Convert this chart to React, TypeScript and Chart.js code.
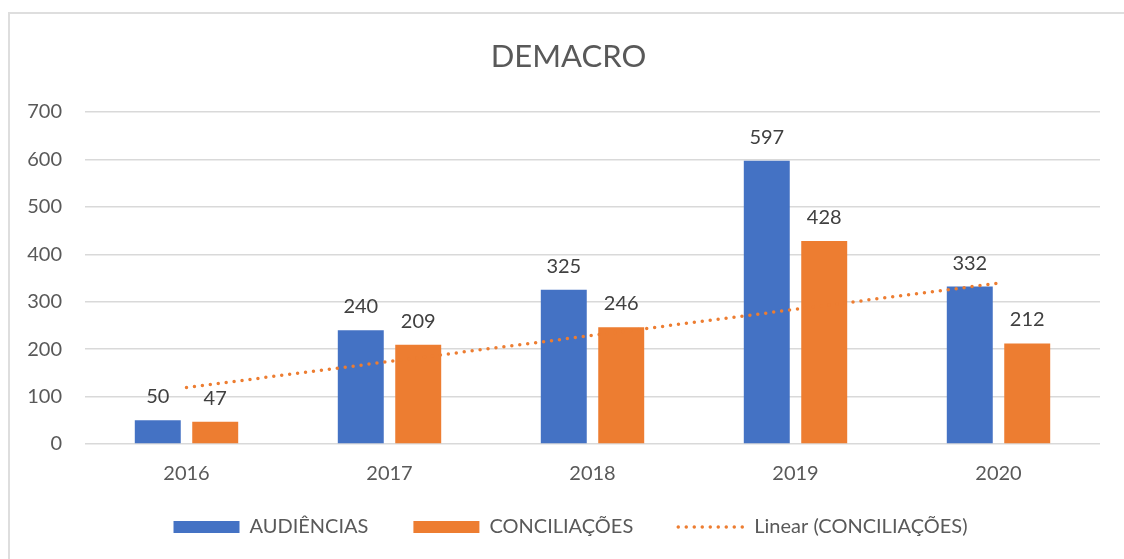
import { useEffect, useRef } from "react";
import { Chart, registerables } from "chart.js";

Chart.register(...registerables);

const chartTitle = "DEMACRO";
const categories = ["2016", "2017", "2018", "2019", "2020"];
const audiencias = [50, 240, 325, 597, 332];
const conciliacoes = [47, 209, 246, 428, 212];
// Linear trend of CONCILIAÇÕES, endpoints
const trendConciliacoes: (number | null)[] = [119, null, null, null, 339];
const seriesLabels = ["AUDIÊNCIAS", "CONCILIAÇÕES", "Linear (CONCILIAÇÕES)"];
const yMin = 0;
const yMax = 700;
const yStep = 100;

const BLUE = "#4472C4";
const ORANGE = "#ED7D31";
const TEXT = "#595959";
const FONT = "Lato, 'Open Sans', sans-serif";

const valueLabels = {
  id: "valueLabels",
  afterDatasetsDraw(chart: any) {
    const ctx = chart.ctx;
    ctx.save();
    ctx.font = `20px ${FONT}`;
    ctx.fillStyle = "#404040";
    ctx.textAlign = "center";
    ctx.textBaseline = "alphabetic";
    chart.data.datasets.forEach((ds: any, i: number) => {
      if (ds.type === "line") return;
      const meta = chart.getDatasetMeta(i);
      meta.data.forEach((el: any, j: number) => {
        const v = ds.data[j];
        if (v == null) return;
        ctx.fillText(String(v), el.x, el.y - 17);
      });
    });
    ctx.restore();
  },
};

// Nudges the title and legend blocks after layout (layout offsets only)
const layoutTweak = {
  id: "layoutTweak",
  afterLayout(chart: any) {
    const lg = chart.legend;
    if (lg) {
      lg.left += 8;
      lg.right += 8;
      lg.top -= 14;
      lg.bottom -= 14;
    }
    const t = chart.titleBlock;
    if (t) {
      t.left += 6;
      t.right += 6;
    }
  },
};

export default function App() {
  const ref = useRef<HTMLCanvasElement | null>(null);

  useEffect(() => {
    if (!ref.current) return;
    const chart = new Chart(ref.current, {
      type: "bar",
      data: {
        labels: categories,
        datasets: [
          {
            label: seriesLabels[0],
            data: audiencias,
            backgroundColor: BLUE,
            borderWidth: 0,
            order: 1,
            categoryPercentage: 0.566,
            barPercentage: 0.8,
          } as any,
          {
            label: seriesLabels[1],
            data: conciliacoes,
            backgroundColor: ORANGE,
            borderWidth: 0,
            order: 1,
            categoryPercentage: 0.566,
            barPercentage: 0.8,
          } as any,
          {
            type: "line",
            label: seriesLabels[2],
            data: trendConciliacoes,
            borderColor: ORANGE,
            backgroundColor: ORANGE,
            borderWidth: 3.5,
            borderDash: [0, 8],
            borderCapStyle: "round",
            pointRadius: 0,
            pointHoverRadius: 0,
            spanGaps: true,
            fill: false,
            tension: 0,
            order: 0,
          } as any,
        ],
      },
      options: {
        responsive: false,
        animation: false,
        devicePixelRatio: 1,
        layout: { padding: { left: 25, right: 24, top: 0, bottom: -2 } },
        plugins: {
          title: {
            display: true,
            text: chartTitle,
            color: TEXT,
            font: { family: FONT, size: 31, weight: "normal" as any },
            padding: { top: 38, bottom: 36.8 },
          },
          legend: {
            display: true,
            position: "bottom",
            labels: {
              color: TEXT,
              font: { family: FONT, size: 20 },
              usePointStyle: true,
              pointStyleWidth: 66,
              boxHeight: 12,
              padding: 45,
              sort: (a: any, b: any) => a.datasetIndex - b.datasetIndex,
              generateLabels: (c: any) => {
                const items = (Chart.defaults.plugins.legend.labels as any).generateLabels(c);
                items.forEach((it: any) => {
                  const ds = c.data.datasets[it.datasetIndex];
                  if (ds.type === "line") {
                    it.pointStyle = "line";
                    it.lineDash = [0, 8];
                    it.lineCap = "round";
                    it.lineWidth = 3.5;
                    it.strokeStyle = ORANGE;
                    it.fillStyle = ORANGE;
                  } else {
                    it.pointStyle = "rect";
                    it.lineWidth = 0;
                    it.fillStyle = ds.backgroundColor;
                    it.strokeStyle = ds.backgroundColor;
                  }
                });
                return items;
              },
            },
          },
          tooltip: { enabled: false },
        },
        scales: {
          x: {
            grid: { display: false, drawTicks: false },
            border: { display: false },
            ticks: {
              color: TEXT,
              font: { family: FONT, size: 20 },
              padding: 18,
            },
            afterFit: (s: any) => {
              s.height = 42;
            },
          },
          y: {
            min: yMin,
            max: yMax,
            grid: { color: "#d9d9d9", lineWidth: 1.5, drawTicks: false },
            border: { display: false },
            ticks: {
              stepSize: yStep,
              color: TEXT,
              font: { family: FONT, size: 20 },
              padding: 23,
            },
            afterFit: (s: any) => {
              s.width = 60;
            },
          },
        },
      },
      plugins: [valueLabels, layoutTweak],
    });
    return () => chart.destroy();
  }, []);

  return (
    <div
      style={{
        position: "fixed",
        left: 0,
        top: 0,
        width: 1124,
        height: 559,
        overflow: "hidden",
        background: "#ffffff",
      }}
    >
      <div
        style={{
          position: "absolute",
          left: 8,
          top: 12,
          width: 1200,
          height: 700,
          border: "2px solid #dedede",
          boxSizing: "border-box",
        }}
      />
      <canvas
        ref={ref}
        width={1124}
        height={559}
        style={{ position: "absolute", left: 0, top: 0 }}
      />
    </div>
  );
}
